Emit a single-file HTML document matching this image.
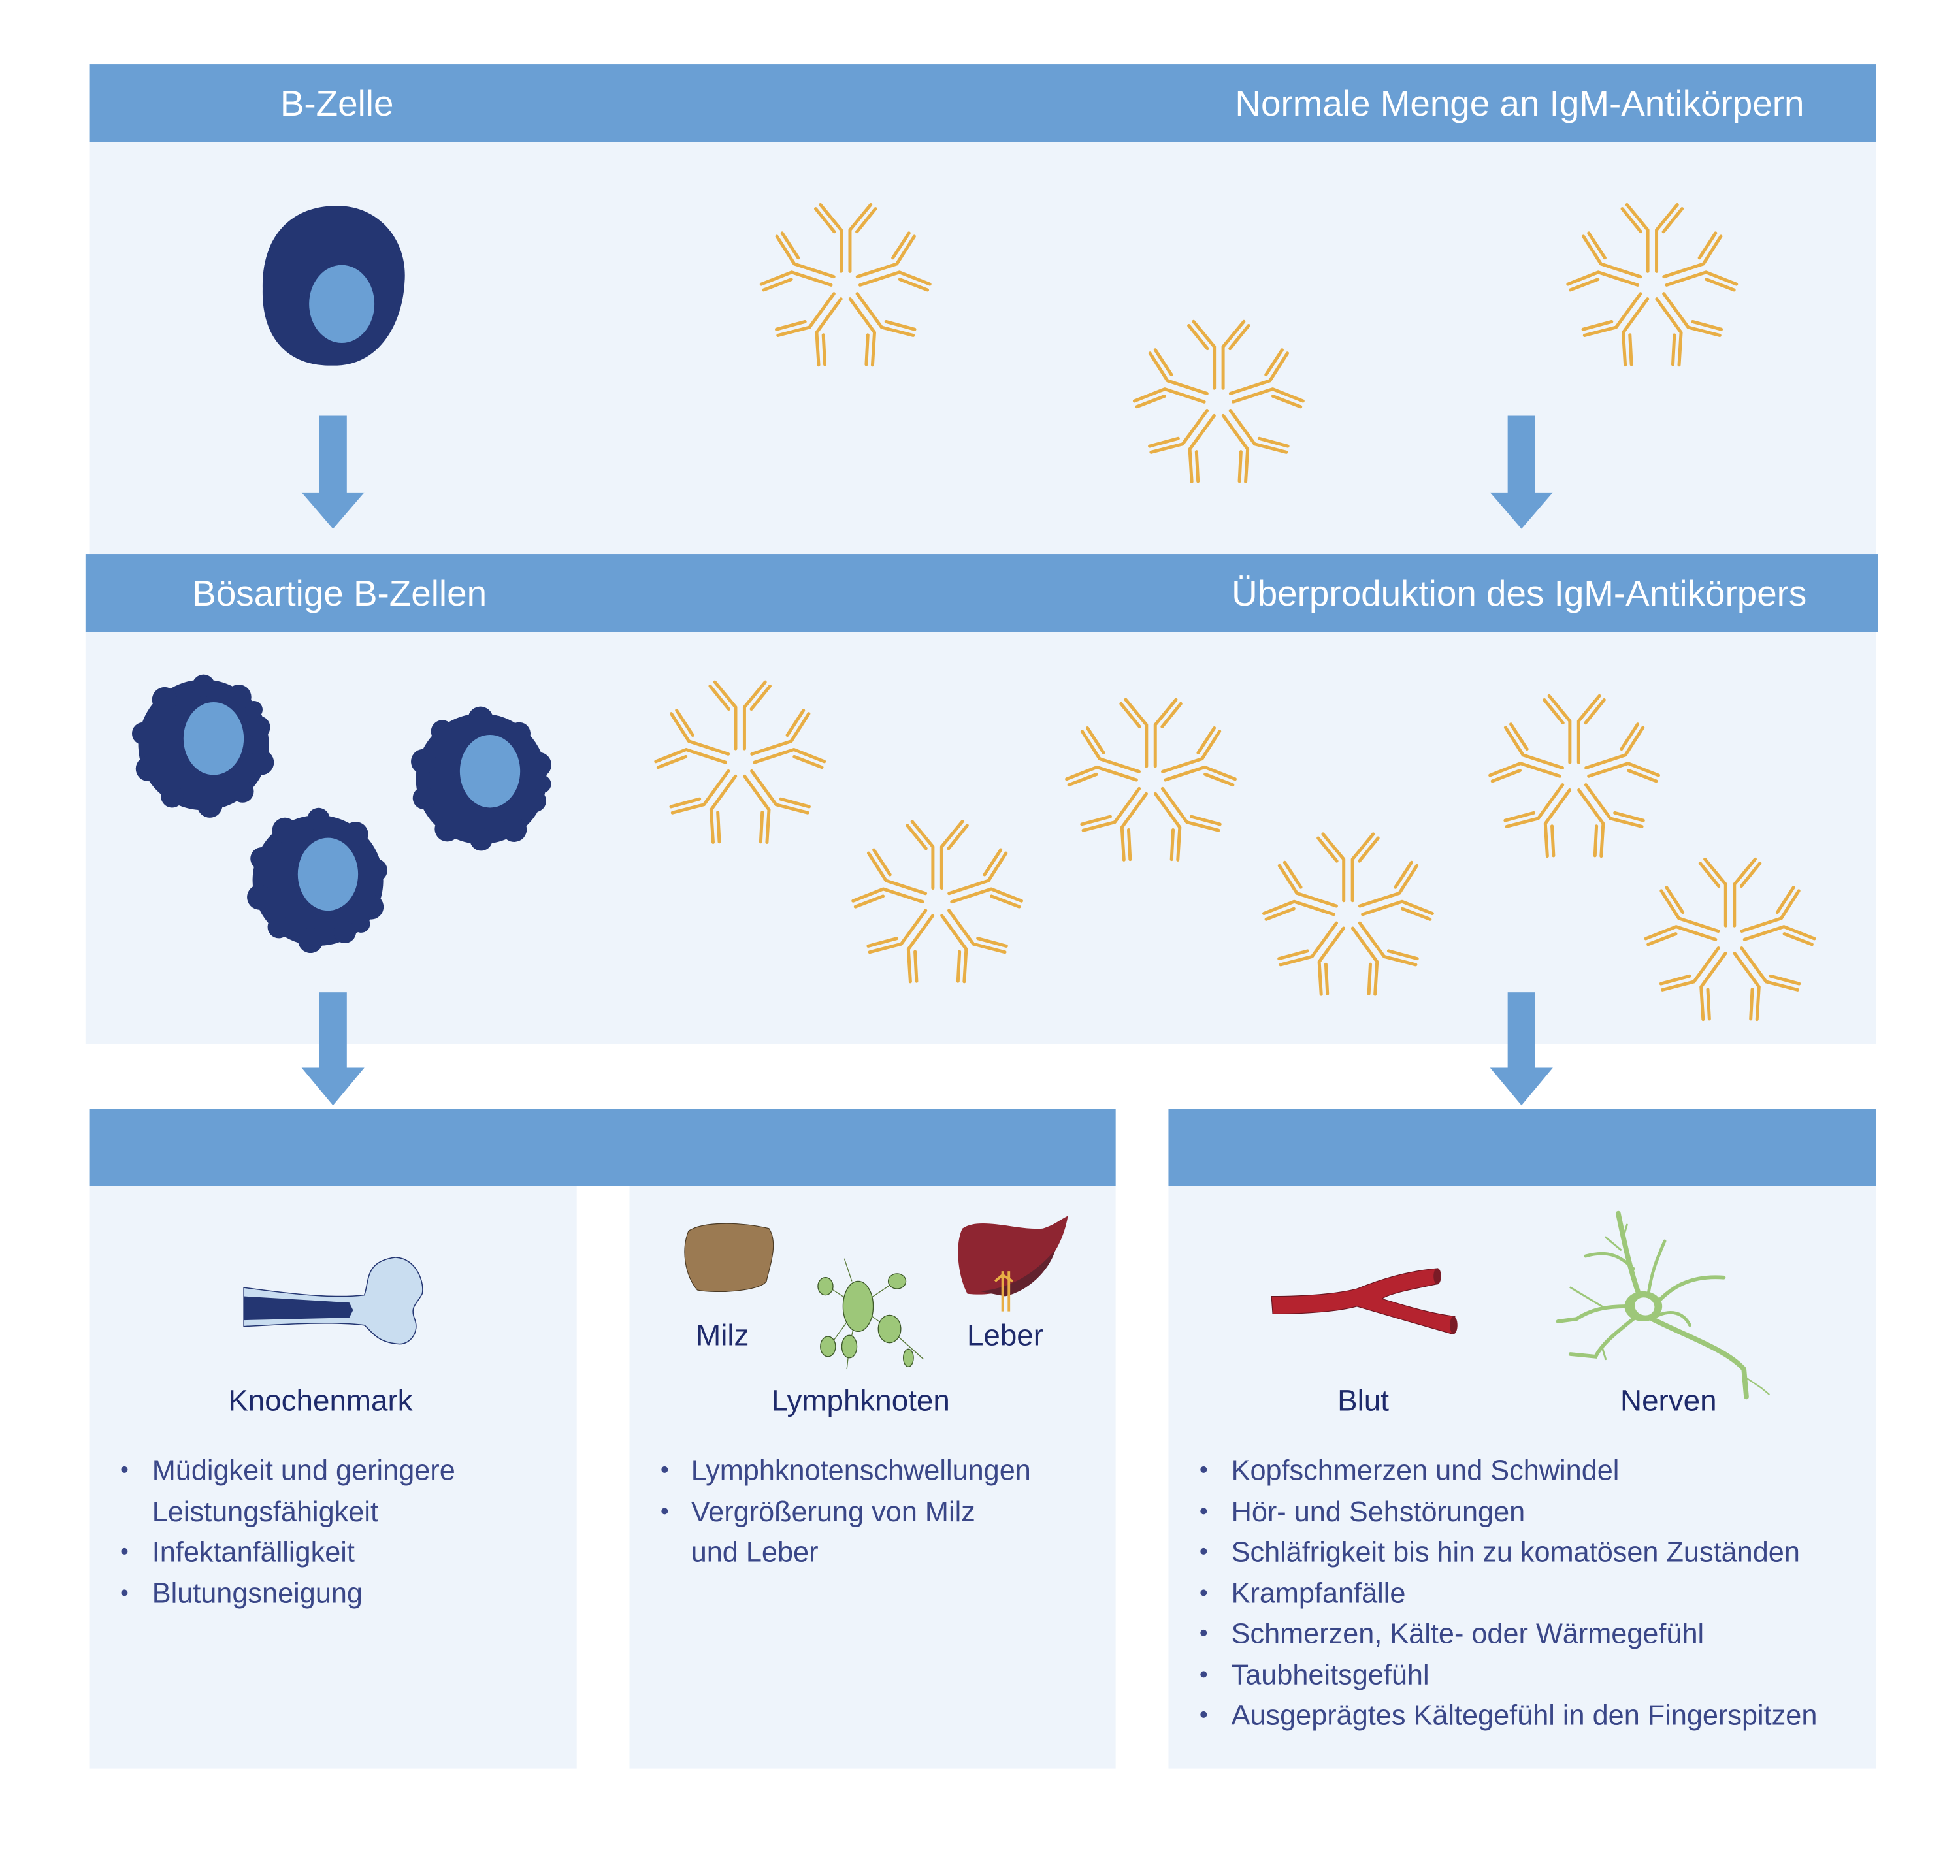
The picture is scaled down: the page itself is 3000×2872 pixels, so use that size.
<!DOCTYPE html>
<html><head><meta charset="utf-8"><style>
html,body{margin:0;padding:0;background:#fff;}
svg{display:block;}
text{font-family:"Liberation Sans",sans-serif;}
</style></head><body>
<svg width="3000" height="2872" viewBox="0 0 1560 1493.5" xmlns="http://www.w3.org/2000/svg">
<defs>
<g id="y" fill="none" stroke="#e8ae45" stroke-width="2.6" stroke-linecap="round" stroke-linejoin="round">
 <path d="M-3.5,-11 L-3.5,-44 L-20,-64"/>
 <path d="M3.5,-11 L3.5,-44 L20,-64"/>
 <path d="M-9,-42.5 L-23.8,-60.8"/>
 <path d="M9,-42.5 L23.8,-60.8"/>
</g>
<g id="ab">
 <use href="#y"/>
 <use href="#y" transform="rotate(72)"/>
 <use href="#y" transform="rotate(144)"/>
 <use href="#y" transform="rotate(216)"/>
 <use href="#y" transform="rotate(288)"/>
</g>
<g id="bump" fill="#243672">
 <circle r="52"/>
 <circle cx="0" cy="-47" r="9"/><circle cx="28" cy="-38" r="10"/><circle cx="44" cy="-14" r="9"/>
 <circle cx="46" cy="14" r="10"/><circle cx="31" cy="37" r="9"/><circle cx="5" cy="48" r="10"/>
 <circle cx="-25" cy="41" r="9"/><circle cx="-44" cy="19" r="10"/><circle cx="-48" cy="-9" r="9"/>
 <circle cx="-31" cy="-36" r="10"/><circle cx="40" cy="-28" r="7"/>
</g>
</defs>

<rect x="71" y="51" width="1422" height="62" fill="#6a9fd4"/>
<rect x="71" y="113" width="1422" height="328" fill="#eef4fb"/>
<rect x="68" y="441" width="1427" height="62" fill="#6a9fd4"/>
<rect x="68" y="503" width="1425" height="328" fill="#eef4fb"/>
<rect x="71" y="883" width="817" height="61" fill="#6a9fd4"/>
<rect x="930" y="883" width="563" height="61" fill="#6a9fd4"/>
<rect x="71" y="944" width="388" height="464" fill="#eef4fb"/>
<rect x="501" y="944" width="387" height="464" fill="#eef4fb"/>
<rect x="930" y="944" width="563" height="464" fill="#eef4fb"/>

<g fill="#fff" font-size="28.5">
<text x="223" y="92">B-Zelle</text>
<text x="1436" y="92" text-anchor="end">Normale Menge an IgM-Antikörpern</text>
<text x="153" y="482">Bösartige B-Zellen</text>
<text x="1438" y="482" text-anchor="end">Überproduktion des IgM-Antikörpers</text>
</g>

<g fill="#6a9fd4">
<rect x="254" y="331" width="22" height="62"/><polygon points="240,392 290,392 265,421"/>
<rect x="1200" y="331" width="22" height="62"/><polygon points="1186,392 1236,392 1211,421"/>
<rect x="254" y="790" width="22" height="61"/><polygon points="240,850 290,850 265,880"/>
<rect x="1200" y="790" width="22" height="61"/><polygon points="1186,850 1236,850 1211,880"/>
</g>

<path d="M265,164 C300,162 325,190 322,225 C320,260 300,292 265,291 C230,292 208,270 209,230 C208,190 230,165 265,164 Z" fill="#243672"/>
<ellipse cx="272" cy="242" rx="26" ry="31" fill="#6a9fd4"/>

<use href="#bump" transform="translate(162,593)"/>
<ellipse cx="170" cy="588" rx="24" ry="29" fill="#6a9fd4"/>
<use href="#bump" transform="translate(383,620) rotate(40)"/>
<ellipse cx="390" cy="614" rx="24" ry="29" fill="#6a9fd4"/>
<use href="#bump" transform="translate(253,701) rotate(80)"/>
<ellipse cx="261" cy="696" rx="24" ry="29" fill="#6a9fd4"/>

<use href="#ab" transform="translate(673,227)"/>
<use href="#ab" transform="translate(970,320)"/>
<use href="#ab" transform="translate(1315,227)"/>
<use href="#ab" transform="translate(589,607)"/>
<use href="#ab" transform="translate(746,718)"/>
<use href="#ab" transform="translate(916,621)"/>
<use href="#ab" transform="translate(1073,728)"/>
<use href="#ab" transform="translate(1253,618)"/>
<use href="#ab" transform="translate(1377,748)"/>

<path d="M194,1025 C230,1030 265,1034 290,1031 C294,1020 290,1004 315,1001 C332,1002 338,1022 336,1030 C332,1038 326,1040 330,1050 C334,1060 327,1070 318,1070 C300,1069 296,1060 290,1055 C265,1052 230,1054 194,1056 Z" fill="#c9ddf0" stroke="#243672" stroke-width="0.8"/>
<path d="M194,1032 L278,1037 L281,1043 L278,1049 L194,1051 Z" fill="#243672"/>

<path d="M548,980 C560,972 590,973 612,978 C620,990 612,1010 610,1020 C605,1028 570,1030 555,1027 C545,1015 542,995 548,980 Z" fill="#9b7a52" stroke="#4a3a25" stroke-width="0.6"/>

<path d="M766,978 C780,968 810,980 830,978 C840,975 845,970 850,968 C846,990 835,1010 812,1020 C800,1028 790,1032 770,1030 C762,1015 760,990 766,978 Z" fill="#8e2531"/>
<path d="M780,1028 C800,1026 820,1018 840,995 C835,1012 818,1028 800,1032 Z" fill="#62222e"/>
<g stroke="#e8ae45" stroke-width="2" fill="none"><path d="M798,1012 L798,1044 M803,1012 L803,1044 M792,1020 L798,1015 L806,1020"/></g>

<g stroke="#5a7a3a" stroke-width="0.7" fill="none">
<path d="M683,1040 L657,1023 M683,1040 L713,1020 M683,1040 L708,1058 L735,1082 M683,1040 L660,1072 M683,1040 L676,1072 L674,1090 M678,1020 L672,1002"/>
</g>
<g fill="#9dc779" stroke="#3e5a2a" stroke-width="0.7">
<ellipse cx="683" cy="1040" rx="12" ry="20"/>
<ellipse cx="657" cy="1024" rx="6" ry="7"/>
<ellipse cx="714" cy="1020" rx="7" ry="6"/>
<ellipse cx="708" cy="1058" rx="9" ry="11"/>
<ellipse cx="659" cy="1072" rx="6" ry="8"/>
<ellipse cx="676" cy="1072" rx="6" ry="9"/>
<ellipse cx="723" cy="1081" rx="4" ry="7"/>
</g>

<path d="M1012,1032 C1040,1032 1065,1030 1080,1026 C1100,1018 1120,1012 1143,1010 L1145,1022 C1125,1026 1105,1030 1100,1034 C1120,1040 1140,1046 1158,1048 L1156,1062 C1135,1056 1100,1046 1080,1040 C1065,1044 1040,1046 1013,1046 Z" fill="#b5232f" stroke="#6a1520" stroke-width="0.6"/>
<ellipse cx="1144" cy="1016" rx="3" ry="6.5" fill="#7a1b26"/>
<ellipse cx="1157" cy="1055" rx="3" ry="7" fill="#7a1b26"/>

<g stroke="#9dc779" fill="none" stroke-linecap="round">
<path d="M1308,1040 C1300,1020 1295,1000 1288,966" stroke-width="4"/>
<path d="M1300,1010 C1290,1000 1280,995 1262,1000" stroke-width="2.5"/>
<path d="M1290,995 L1278,985 M1292,985 L1295,975" stroke-width="1.5"/>
<path d="M1312,1030 C1315,1010 1320,1000 1325,988" stroke-width="2.5"/>
<path d="M1318,1038 C1330,1025 1345,1015 1372,1017" stroke-width="3"/>
<path d="M1300,1040 C1285,1040 1270,1040 1255,1050 L1240,1052" stroke-width="3"/>
<path d="M1275,1040 L1250,1025" stroke-width="1.5"/>
<path d="M1300,1050 C1285,1062 1275,1070 1270,1080 L1250,1078" stroke-width="3"/>
<path d="M1275,1072 L1278,1082" stroke-width="1.5"/>
<path d="M1318,1048 C1330,1042 1340,1045 1345,1055" stroke-width="2.5"/>
<path d="M1315,1050 C1345,1065 1375,1075 1388,1090 L1390,1112" stroke-width="4"/>
<path d="M1390,1097 L1402,1105 L1408,1110" stroke-width="1.2"/>
</g>
<ellipse cx="1308" cy="1040" rx="15" ry="12" fill="#9dc779"/>
<ellipse cx="1309" cy="1040" rx="8" ry="7" fill="#eef4fb" transform="rotate(20 1309 1040)"/>

<g fill="#1e2a6b" font-size="23.8" text-anchor="middle">
<text x="255" y="1123">Knochenmark</text>
<text x="575" y="1071">Milz</text>
<text x="800" y="1071">Leber</text>
<text x="685" y="1123">Lymphknoten</text>
<text x="1085" y="1123">Blut</text>
<text x="1328" y="1123">Nerven</text>
</g>

<g fill="#3a4788" font-size="22.5">
<text x="121" y="1178">Müdigkeit und geringere</text>
<text x="121" y="1211">Leistungsfähigkeit</text>
<text x="121" y="1243">Infektanfälligkeit</text>
<text x="121" y="1276">Blutungsneigung</text>
<text x="550" y="1178">Lymphknotenschwellungen</text>
<text x="550" y="1211">Vergrößerung von Milz</text>
<text x="550" y="1243">und Leber</text>
<text x="980" y="1178">Kopfschmerzen und Schwindel</text>
<text x="980" y="1211">Hör- und Sehstörungen</text>
<text x="980" y="1243">Schläfrigkeit bis hin zu komatösen Zuständen</text>
<text x="980" y="1276">Krampfanfälle</text>
<text x="980" y="1308">Schmerzen, Kälte- oder Wärmegefühl</text>
<text x="980" y="1341">Taubheitsgefühl</text>
<text x="980" y="1373">Ausgeprägtes Kältegefühl in den Fingerspitzen</text>
</g>
<g fill="#3a4788">
<circle cx="99" cy="1170" r="2.6"/><circle cx="99" cy="1235" r="2.6"/><circle cx="99" cy="1268" r="2.6"/>
<circle cx="529" cy="1170" r="2.6"/><circle cx="529" cy="1203" r="2.6"/>
<circle cx="958" cy="1170" r="2.6"/><circle cx="958" cy="1203" r="2.6"/><circle cx="958" cy="1235" r="2.6"/>
<circle cx="958" cy="1268" r="2.6"/><circle cx="958" cy="1300" r="2.6"/><circle cx="958" cy="1333" r="2.6"/><circle cx="958" cy="1365" r="2.6"/>
</g>
</svg>
</body></html>
